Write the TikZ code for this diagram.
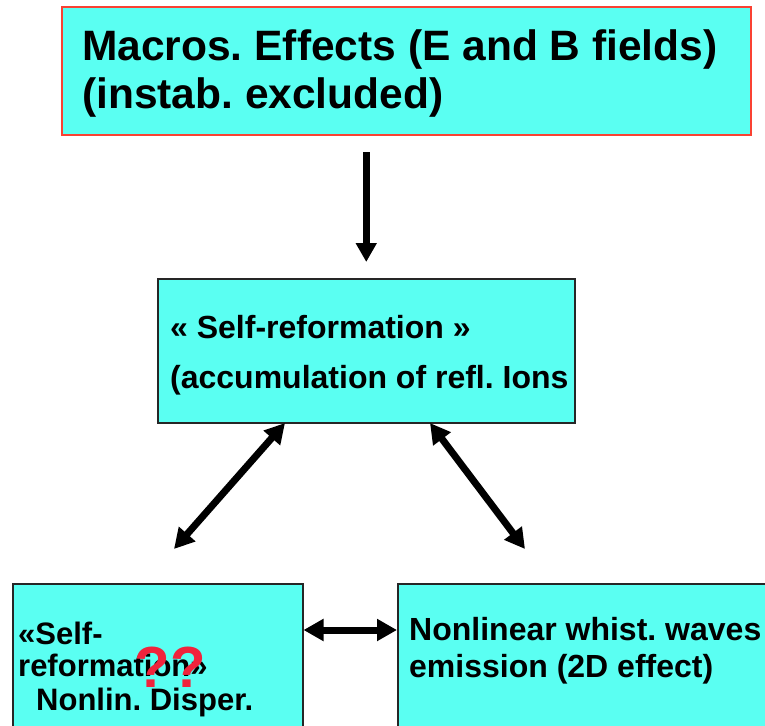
\documentclass[tikz,border=0pt]{standalone}
\usepackage{fontspec}
\setmainfont{Liberation Sans}
\usetikzlibrary{arrows.meta}
\definecolor{boxcyan}{RGB}{90,255,242}
\definecolor{boxred}{RGB}{250,65,50}
\definecolor{qred}{RGB}{240,35,60}
\frenchspacing
\begin{document}
\begin{tikzpicture}[x=1pt,y=-1pt,
  box/.style={draw=black!85, line width=1.5pt, fill=boxcyan, rectangle, inner sep=0pt, anchor=north west},
  txt/.style={anchor=base west, inner sep=0pt, font=\bfseries\fontsize{32}{36}\selectfont},
  bigtxt/.style={anchor=base west, inner sep=0pt, font=\bfseries\fontsize{42.5}{48}\selectfont},
  darr/.style={line width=7pt, {Triangle[length=20pt,width=21pt]}-{Triangle[length=20pt,width=21pt]}},
  sarr/.style={line width=7pt, -{Triangle[length=19pt,width=20pt]}}]
\useasboundingbox (0,0) rectangle (765,725);
\clip (0,0) rectangle (765,725);
% boxes
\node[box, draw=boxred, line width=2pt, minimum width=689pt, minimum height=128pt] (top) at (61,6) {};
\node[box, minimum width=417pt, minimum height=144pt] (mid) at (157,278) {};
\node[box, minimum width=290pt, minimum height=200pt] (bl) at (12,583) {};
\node[box, minimum width=400pt, minimum height=200pt] (br) at (397,583) {};
% texts
\node[bigtxt] (t1) at (82,60) {Macros. Effects (E and B fields)};
\node[bigtxt] (t2) at (82,108) {(instab. excluded)};
\node[txt] (m1) at (170,338) {« Self-reformation »};
\node[txt] (m2) at (170,388) {(accumulation of refl. Ions};
\node[txt, font=\bfseries\fontsize{31}{36}\selectfont] (l1) at (18,644) {«Self-};
\node[txt, font=\bfseries\fontsize{31}{36}\selectfont] (l2) at (18,676) {reformation»};
\node[txt, font=\bfseries\fontsize{31}{36}\selectfont] (l3) at (36,710) {Nonlin. Disper.};
\node[txt] (r1) at (409,640) {Nonlinear whist. waves};
\node[txt] (r2) at (409,677) {emission (2D effect)};
\node[anchor=base, inner sep=0pt, text=qred, font=\bfseries\fontsize{58}{60}\selectfont] (qq) at (170,687) {??};
% connectors
\coordinate (a1s) at (285,423);
\coordinate (a1e) at (174,549);
\coordinate (a2s) at (430,423);
\coordinate (a2e) at (525,549);
\draw[sarr, shorten <=16pt, shorten >=16pt] (mid.north |- top.south) -- (mid.north);
\draw[darr] (a1s) -- (a1e);
\draw[darr] (a2s) -- (a2e);
\draw[darr] (bl.east |- 0,630) -- (br.west |- 0,630);
\end{tikzpicture}
\end{document}
